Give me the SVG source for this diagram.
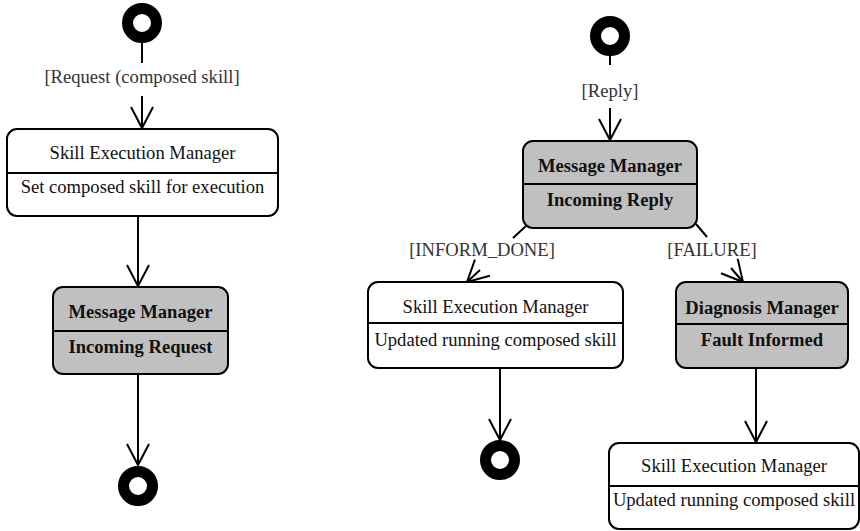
<svg xmlns="http://www.w3.org/2000/svg" width="860" height="531" viewBox="0 0 860 531">
  <style>
    .box { stroke: #000; stroke-width: 2; }
    .plain { fill: #fff; }
    .shaded { fill: #c0c0c0; }
    .div { stroke: #000; stroke-width: 2; }
    .txt { font-family: "Liberation Serif", "Times New Roman", serif; font-size: 18.6px; fill: #111; text-anchor: middle; }
    .bold { font-weight: bold; }
    .lbl { font-family: "Liberation Serif", "Times New Roman", serif; font-size: 18.6px; fill: #333; text-anchor: middle; }
    .edge { fill: none; stroke: #000; stroke-width: 2; }
    .pseudo { fill: #fff; stroke: #000; stroke-width: 11; }
  </style>
  <defs>
    <marker id="open" viewBox="-24 -14 28 28" markerWidth="28" markerHeight="28" refX="0" refY="0" orient="auto" markerUnits="userSpaceOnUse">
      <path d="M-21,-11 L0,0 L-21,11" fill="none" stroke="#000" stroke-width="2"/>
    </marker>
  </defs>

  <rect width="860" height="531" fill="#fff"/>

  <!-- connectors -->
  <g id="connectors">
    <path class="edge" d="M142,43 L142,63 M142,96 L142,128" marker-end="url(#open)"/>
    <path class="edge" d="M138,216 L138,286" marker-end="url(#open)"/>
    <path class="edge" d="M138,374 L138,465" marker-end="url(#open)"/>
    <path class="edge" d="M610,56 L610,65 M610,108 L610,140" marker-end="url(#open)"/>
    <path class="edge" d="M526,226 L513,238 M480,270 L467,282" marker-end="url(#open)"/>
    <path class="edge" d="M696,224 L707,237 M731,268 L743,282" marker-end="url(#open)"/>
    <path class="edge" d="M500,368 L500,440" marker-end="url(#open)"/>
    <path class="edge" d="M756,368 L756,442" marker-end="url(#open)"/>
  </g>

  <!-- edge labels -->
  <g id="labels">
    <text class="lbl" x="142" y="83">[Request (composed skill]</text>
    <text class="lbl" x="610" y="97">[Reply]</text>
    <text class="lbl" x="482" y="256">[INFORM_DONE]</text>
    <text class="lbl" x="712" y="256">[FAILURE]</text>
  </g>

  <!-- start / end points -->
  <g id="start-left"><circle class="pseudo" cx="142" cy="23" r="14.5"/></g>
  <g id="end-left"><circle class="pseudo" cx="138" cy="486" r="14.5"/></g>
  <g id="start-right"><circle class="pseudo" cx="610" cy="36" r="14.5"/></g>
  <g id="end-right"><circle class="pseudo" cx="500" cy="460" r="14.5"/></g>

  <!-- states -->
  <g id="sem-set-composed">
    <rect class="box plain" x="7" y="129" width="271" height="87" rx="10"/>
    <line class="div" x1="7" y1="173" x2="278" y2="173"/>
    <text class="txt" x="142.5" y="159">Skill Execution Manager</text>
    <text class="txt" x="142.5" y="192.5">Set composed skill for execution</text>
  </g>

  <g id="mm-incoming-request">
    <rect class="box shaded" x="53" y="287" width="175" height="87" rx="10"/>
    <line class="div" x1="53" y1="331" x2="228" y2="331"/>
    <text class="txt bold" x="140.5" y="317.5">Message Manager</text>
    <text class="txt bold" x="140.5" y="352.5">Incoming Request</text>
  </g>

  <g id="mm-incoming-reply">
    <rect class="box shaded" x="523" y="141" width="174" height="87" rx="10"/>
    <line class="div" x1="523" y1="184" x2="697" y2="184"/>
    <text class="txt bold" x="610" y="171.5">Message Manager</text>
    <text class="txt bold" x="610" y="206">Incoming Reply</text>
  </g>

  <g id="sem-updated-done">
    <rect class="box plain" x="368" y="282" width="255" height="86" rx="10"/>
    <line class="div" x1="368" y1="323" x2="623" y2="323"/>
    <text class="txt" x="495.5" y="313">Skill Execution Manager</text>
    <text class="txt" x="495.5" y="346">Updated running composed skill</text>
  </g>

  <g id="dm-fault-informed">
    <rect class="box shaded" x="676" y="282" width="172" height="86" rx="10"/>
    <line class="div" x1="676" y1="324" x2="848" y2="324"/>
    <text class="txt bold" x="762" y="314">Diagnosis Manager</text>
    <text class="txt bold" x="762" y="346">Fault Informed</text>
  </g>

  <g id="sem-updated-failure">
    <rect class="box plain" x="609" y="443" width="250" height="86" rx="10"/>
    <line class="div" x1="609" y1="486" x2="859" y2="486"/>
    <text class="txt" x="734" y="472">Skill Execution Manager</text>
    <text class="txt" x="734" y="506">Updated running composed skill</text>
  </g>
</svg>
